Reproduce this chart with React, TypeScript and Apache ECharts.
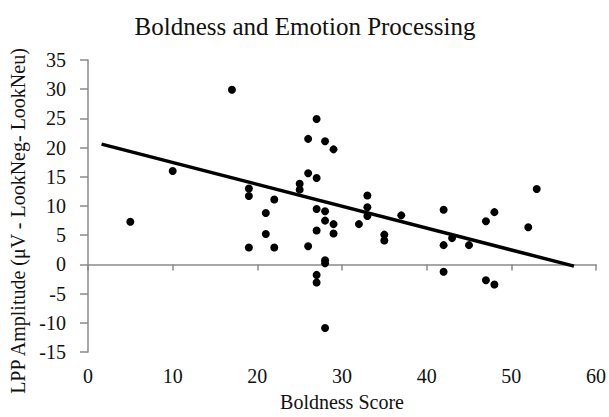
import React, { useEffect, useRef } from "react";
import * as echarts from "echarts";

const boldness: number[] = [5, 10, 17, 19, 19, 19, 21, 21, 22, 22, 25, 25, 26, 26, 26, 27, 27, 27, 27, 27, 27, 28, 28, 28, 28, 28, 28, 29, 29, 29, 32, 33, 33, 33, 35, 35, 37, 42, 42, 42, 43, 45, 47, 47, 48, 48, 52, 53];
const lpp: number[] = [7.3, 16.0, 29.9, 13.0, 11.7, 2.9, 8.8, 5.2, 11.1, 2.9, 13.8, 12.8, 21.5, 15.6, 3.1, 24.9, 14.8, 9.5, 5.8, -1.8, -3.1, 21.1, 9.1, 7.5, 0.7, 0.2, -10.9, 19.7, 6.9, 5.3, 6.9, 11.8, 9.8, 8.3, 5.1, 4.1, 8.4, 9.35, 3.3, -1.25, 4.5, 3.3, 7.4, -2.7, 8.95, -3.45, 6.35, 12.9];
const trendX: number[] = [1.6, 57.4];
const trendY: number[] = [20.6, -0.3];

const FONT = "Liberation Serif, Times New Roman, serif";

export default function App() {
  const ref = useRef<HTMLDivElement>(null);
  useEffect(() => {
    if (!ref.current) return;
    document.body.style.margin = "0";
    document.body.style.overflow = "hidden";
    const chart = echarts.init(ref.current, null, { renderer: "svg" });
    chart.setOption({
      animation: false,
      backgroundColor: "#ffffff",
      textStyle: { fontFamily: FONT },
      title: {
        text: "Boldness and Emotion Processing",
        left: 300,
        textAlign: "center",
        top: 9,
        textStyle: { fontFamily: FONT, fontSize: 25, fontWeight: "normal", color: "#111" },
      },
      grid: { left: 85, right: 13, top: 60, bottom: 63 },
      xAxis: {
        type: "value",
        min: 0,
        max: 60,
        interval: 10,
        name: "Boldness Score",
        nameLocation: "middle",
        nameGap: 40,
        nameTextStyle: { fontFamily: FONT, fontSize: 20, color: "#111" },
        axisLine: { show: true, lineStyle: { color: "#8a8a8a", width: 1.5 } },
        axisTick: { show: true, inside: false, length: 6, lineStyle: { color: "#8a8a8a", width: 1.5 } },
        axisLabel: { fontFamily: FONT, fontSize: 20, color: "#111", margin: 14 },
        splitLine: { show: false },
      },
      yAxis: {
        type: "value",
        min: -15,
        max: 35,
        interval: 5,
        name: "LPP Amplitude (μV - LookNeg- LookNeu)",
        nameLocation: "middle",
        nameGap: 60,
        nameTextStyle: { fontFamily: FONT, fontSize: 20, color: "#111", padding: [0, 30, 0, 0] },
        axisLine: { show: true, lineStyle: { color: "#8a8a8a", width: 1.5 } },
        axisTick: { show: true, inside: false, length: 8, lineStyle: { color: "#8a8a8a", width: 1.5 } },
        axisLabel: { fontFamily: FONT, fontSize: 20, color: "#111", margin: 22 },
        splitLine: { show: false },
      },
      series: [
        {
          type: "scatter",
          data: boldness.map((x, i) => [x, lpp[i]]),
          symbol: "circle",
          symbolSize: 8,
          itemStyle: { color: "#000", opacity: 1 },
          z: 3,
        },
        {
          type: "line",
          data: trendX.map((x, i) => [x, trendY[i]]),
          showSymbol: false,
          symbol: "none",
          lineStyle: { color: "#000", width: 3.5 },
          z: 2,
        },
      ],
    });
    return () => chart.dispose();
  }, []);
  return <div ref={ref} style={{ position: "fixed", left: 0, top: 0, width: 609, height: 417 }} />;
}
